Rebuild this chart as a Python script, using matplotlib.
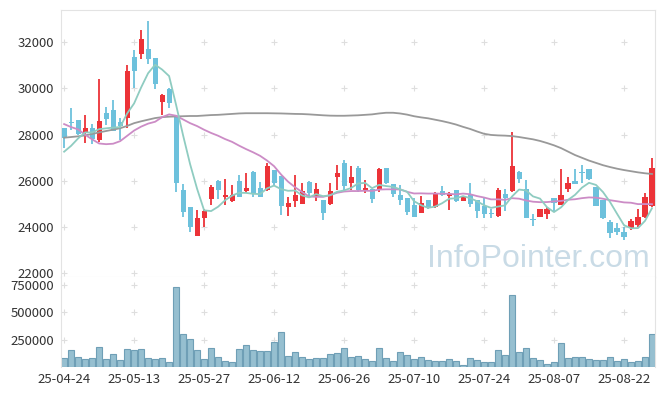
import numpy as np
import pandas as pd
import matplotlib
matplotlib.use("Agg")
import matplotlib.pyplot as plt

# 일봉 데이터 (2025-04-24 ~ 2025-08-28)
opens = [28280, 28560, 28640, 28060, 28280, 27770, 28940, 29070, 28560, 28740,
         31350, 31480, 31710, 31310, 29430, 29980, 28800, 25610, 24860, 23610,
         24380, 25220, 25990, 25320, 25140, 25990, 25560, 26400, 25680, 25610,
         26470, 26200, 24880, 25140, 25010, 25960, 25360, 25170, 24980, 26180,
         26760, 25900, 26540, 25610, 25640, 25640, 26540, 25870, 25390, 25270,
         24950, 24600, 25170, 24860, 25560, 25350, 25610, 25140, 25390, 25170,
         24910, 24580, 24480, 25430, 25580, 26400, 25640, 24340, 24450, 24570,
         25250, 24960, 25650, 26010, 26360, 26500, 25730, 25170, 24210, 23950,
         23770, 23950, 24090, 24450, 24930]
closes = [27870, 28510, 28010, 28280, 27810, 28590, 28690, 28170, 28380, 30760,
          30770, 32140, 31260, 30210, 29720, 29360, 25890, 24670, 23990, 24380,
          24700, 25730, 25610, 25390, 25390, 25320, 25690, 25420, 25320, 26640,
          25920, 24920, 25060, 25390, 25570, 25490, 25630, 24620, 25560, 26340,
          25790, 26150, 25610, 25680, 25200, 26500, 25900, 25420, 25170, 24670,
          24450, 25030, 24860, 25430, 25390, 25430, 25140, 25320, 25000, 24710,
          24570, 24560, 25610, 25250, 26640, 26070, 24380, 24310, 24770, 24770,
          25030, 25390, 25920, 25870, 26340, 26070, 24930, 24380, 23730, 23800,
          23580, 24260, 24420, 25290, 26540]
highs = [28280, 29140, 28640, 28850, 28450, 30410, 29190, 29500, 28710, 31020,
         31670, 32530, 32920, 31330, 29760, 30000, 28850, 25850, 24880, 24740,
         24780, 25820, 26040, 26070, 25820, 26260, 26360, 26420, 25960, 26760,
         26480, 26220, 25320, 26260, 25900, 25980, 25900, 25180, 25900, 26700,
         26900, 26650, 26650, 26040, 25640, 26540, 26580, 25870, 25820, 25280,
         25240, 25340, 25180, 25530, 25790, 25530, 25620, 25340, 25900, 25180,
         25300, 24800, 25680, 25650, 28130, 26420, 26040, 24550, 24800, 24860,
         25250, 26500, 26160, 26500, 26690, 26510, 25730, 25180, 24310, 24170,
         24020, 24340, 24770, 25460, 26980]
lows = [27420, 28200, 27990, 27630, 27580, 27700, 28420, 28150, 27770, 28280,
        30010, 31260, 31050, 29970, 28850, 29140, 25510, 24450, 23800, 23610,
        24020, 24960, 25220, 24960, 25070, 25300, 25460, 25320, 25300, 25580,
        25820, 24530, 24480, 24860, 25000, 25320, 25140, 24310, 24960, 25600,
        25610, 25610, 25540, 25460, 25030, 25530, 25850, 25320, 24960, 24530,
        24440, 24590, 24770, 24830, 25340, 24740, 25080, 25120, 24860, 24380,
        24380, 24380, 24440, 24710, 25530, 25900, 24380, 24050, 24440, 24340,
        24710, 24950, 25530, 25860, 25900, 26060, 24930, 24340, 23520, 23660,
        23440, 23880, 24020, 24380, 24860]
volumes = [81000, 156000, 90000, 75000, 81000, 180000, 75000, 117000, 66000, 162000,
           156000, 162000, 81000, 75000, 81000, 48000, 731000, 306000, 261000, 156000,
           75000, 171000, 90000, 57000, 48000, 162000, 198000, 156000, 147000, 147000,
           228000, 317000, 99000, 138000, 90000, 72000, 81000, 81000, 117000, 126000,
           171000, 90000, 99000, 72000, 54000, 171000, 81000, 54000, 135000, 108000,
           72000, 90000, 63000, 54000, 54000, 72000, 54000, 18000, 81000, 63000,
           45000, 45000, 153000, 108000, 656000, 135000, 171000, 81000, 63000, 27000,
           45000, 225000, 81000, 90000, 90000, 72000, 63000, 63000, 90000, 54000,
           72000, 45000, 54000, 90000, 306000]

# 이동평균 앞부분 (차트 이전 데이터가 필요한 구간은 그림에서 읽은 값)
ma5_head = [27265, 27520, 27840, 28100]
ma20_head = [28460, 28330, 28230, 28000, 27800, 27620, 27590, 27610, 27720, 27950,
             28180, 28350, 28480, 28560, 28760, 28880, 28820, 28660, 28500]
ma_long = [27870, 27900, 27930, 27970, 28030, 28100, 28160, 28220, 28280, 28380,
           28500, 28580, 28650, 28720, 28760, 28780, 28790, 28800, 28810, 28810,
           28830, 28850, 28860, 28880, 28900, 28920, 28930, 28930, 28930, 28930,
           28925, 28920, 28910, 28900, 28895, 28880, 28860, 28840, 28825, 28820,
           28820, 28830, 28840, 28860, 28880, 28920, 28950, 28950, 28920, 28870,
           28800, 28750, 28710, 28650, 28590, 28520, 28440, 28340, 28250, 28140,
           28040, 27990, 27970, 27960, 27940, 27900, 27850, 27800, 27730, 27640,
           27540, 27420, 27270, 27120, 27000, 26880, 26780, 26680, 26600, 26530,
           26470, 26420, 26370, 26330, 26300]

tick_labels = ['25-04-24', '25-05-13', '25-05-27', '25-06-12', '25-06-26',
               '25-07-10', '25-07-24', '25-08-07', '25-08-22']
price_ticks = [22000, 24000, 26000, 28000, 30000, 32000]
vol_ticks = [250000, 500000, 750000]

plt.rcParams['font.family'] = ['Noto Sans CJK KR', 'DejaVu Sans']

o = np.array(opens); c = np.array(closes)
h = np.array(highs); l = np.array(lows)
x = np.arange(len(c))
s = pd.Series(c, dtype=float)
ma5 = s.rolling(5).mean().values
ma5[:4] = ma5_head
ma20 = s.rolling(20).mean().values
ma20[:19] = ma20_head

up = c > o
red, blue = '#ec3338', '#6dc1dc'
colors = np.where(up, red, blue)

fig = plt.figure(figsize=(6.65, 3.96), dpi=100)
ax = fig.add_axes([0.0917, 0.2997, 0.894, 0.6743])
axv = fig.add_axes([0.0917, 0.0725, 0.894, 0.2272])

xt = np.arange(0, len(c), 10)
for a, yt in ((ax, price_ticks), (axv, vol_ticks)):
    gx, gy = np.meshgrid(xt, yt)
    a.scatter(gx.ravel(), gy.ravel(), marker='+', s=22, color='#dedede',
              linewidths=0.8, zorder=0)

# 캔들
ax.vlines(x, l, h, colors=colors, linewidth=1.3, zorder=2)
body = np.maximum(np.abs(c - o), 45)
ax.bar(x, body, bottom=np.minimum(o, c), width=0.72, color=colors, zorder=3)

ax.plot(x, ma_long, color='#999999', lw=1.3, zorder=4)
ax.plot(x, ma20, color='#cc8cc6', lw=1.3, zorder=4)
ax.plot(x, ma5, color='#8fccc1', lw=1.3, zorder=4)

ax.text(0.803, 0.038, 'InfoPointer.com', transform=ax.transAxes,
        ha='center', va='baseline', fontsize=23, color='#c9dbe6',
        family='Liberation Sans', zorder=5)

axv.bar(x, volumes, width=0.92, color='#96bfd0', edgecolor='#6f9fb6',
        linewidth=0.8, zorder=2)

xlim = (-0.45, len(c) - 0.5)
ax.set_xlim(xlim); axv.set_xlim(xlim)
ax.set_ylim(21827, 33385)
axv.set_ylim(0, 817000)

ax.set_yticks(price_ticks)
ax.set_yticklabels([str(v) for v in price_ticks])
ax.set_xticks([])
axv.set_yticks(vol_ticks)
axv.set_yticklabels([str(v) for v in vol_ticks])
axv.set_xticks(xt)
axv.set_xticklabels(tick_labels)

for a in (ax, axv):
    a.tick_params(length=0, labelsize=9.5, colors='#333333', pad=5)
    for sp in a.spines.values():
        sp.set_color('#e3e3e3')
axv.spines['top'].set_visible(False)
axv.spines['bottom'].set_visible(False)
axv.tick_params(axis='x', pad=4)

fig.savefig('out.png', dpi=100)
